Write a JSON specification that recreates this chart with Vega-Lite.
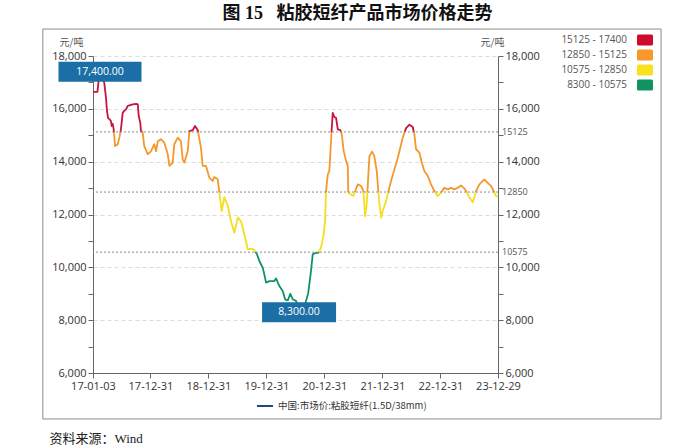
{
  "$schema": "https://vega.github.io/schema/vega-lite/v6.json",
  "width": 405,
  "height": 317,
  "padding": {"left": 42, "top": 4, "right": 10, "bottom": 0},
  "title": {"text": "图 15\u00a0\u00a0\u00a0粘胶短纤产品市场价格走势", "font": "Liberation Serif, Noto Sans CJK SC", "fontSize": 18, "fontWeight": "bold", "color": "#111111", "anchor": "middle", "offset": 6, "dx": 62},
  "datasets": {
    "series": [
      {"d": "2017-01-03", "v": 16640}, {"d": "2017-01-31", "v": 16640}, {"d": "2017-02-07", "v": 17050}, {"d": "2017-02-16", "v": 17400},
      {"d": "2017-03-01", "v": 17240}, {"d": "2017-03-15", "v": 16980}, {"d": "2017-03-26", "v": 16410}, {"d": "2017-04-01", "v": 15920},
      {"d": "2017-04-08", "v": 15650}, {"d": "2017-04-16", "v": 15610}, {"d": "2017-04-26", "v": 15540}, {"d": "2017-05-01", "v": 15350},
      {"d": "2017-05-07", "v": 15430}, {"d": "2017-05-13", "v": 15240}, {"d": "2017-05-22", "v": 14590}, {"d": "2017-06-08", "v": 14660},
      {"d": "2017-06-18", "v": 14910}, {"d": "2017-06-28", "v": 15220}, {"d": "2017-07-09", "v": 15850}, {"d": "2017-07-19", "v": 15920},
      {"d": "2017-07-30", "v": 15980}, {"d": "2017-08-10", "v": 16110}, {"d": "2017-09-10", "v": 16170}, {"d": "2017-10-01", "v": 16190},
      {"d": "2017-10-12", "v": 16170}, {"d": "2017-10-18", "v": 15730}, {"d": "2017-10-28", "v": 15470}, {"d": "2017-11-01", "v": 15160},
      {"d": "2017-11-12", "v": 15100}, {"d": "2017-11-22", "v": 14590}, {"d": "2017-12-14", "v": 14280}, {"d": "2018-01-03", "v": 14390},
      {"d": "2018-01-24", "v": 14660}, {"d": "2018-02-04", "v": 14390}, {"d": "2018-02-15", "v": 14770}, {"d": "2018-03-07", "v": 14850},
      {"d": "2018-03-28", "v": 14720}, {"d": "2018-04-19", "v": 14280}, {"d": "2018-04-29", "v": 13840}, {"d": "2018-05-20", "v": 13960},
      {"d": "2018-05-30", "v": 14660}, {"d": "2018-06-21", "v": 14910}, {"d": "2018-07-11", "v": 14770}, {"d": "2018-07-22", "v": 14090},
      {"d": "2018-08-01", "v": 13960}, {"d": "2018-08-23", "v": 14400}, {"d": "2018-09-02", "v": 15160}, {"d": "2018-09-23", "v": 15190},
      {"d": "2018-10-08", "v": 15350}, {"d": "2018-10-25", "v": 15190}, {"d": "2018-11-14", "v": 14530}, {"d": "2018-11-25", "v": 13840},
      {"d": "2018-12-16", "v": 13840}, {"d": "2019-01-06", "v": 13390}, {"d": "2019-01-27", "v": 13270}, {"d": "2019-02-06", "v": 13420},
      {"d": "2019-02-28", "v": 13330}, {"d": "2019-03-10", "v": 12820}, {"d": "2019-03-25", "v": 12130}, {"d": "2019-04-10", "v": 12660},
      {"d": "2019-05-02", "v": 12320}, {"d": "2019-05-22", "v": 11750}, {"d": "2019-06-12", "v": 11310}, {"d": "2019-07-04", "v": 11880},
      {"d": "2019-07-24", "v": 11750}, {"d": "2019-08-14", "v": 11250}, {"d": "2019-09-05", "v": 10680}, {"d": "2019-09-25", "v": 10710},
      {"d": "2019-10-16", "v": 10660}, {"d": "2019-11-02", "v": 10490}, {"d": "2019-11-17", "v": 10240}, {"d": "2019-12-08", "v": 9990},
      {"d": "2019-12-18", "v": 9740}, {"d": "2019-12-29", "v": 9420}, {"d": "2020-01-19", "v": 9480}, {"d": "2020-02-19", "v": 9480},
      {"d": "2020-03-01", "v": 9580}, {"d": "2020-03-22", "v": 9290}, {"d": "2020-04-12", "v": 9100}, {"d": "2020-04-27", "v": 8790},
      {"d": "2020-05-14", "v": 8750}, {"d": "2020-05-30", "v": 9000}, {"d": "2020-06-14", "v": 8790}, {"d": "2020-07-05", "v": 8730},
      {"d": "2020-07-24", "v": 8300}, {"d": "2020-08-12", "v": 8450}, {"d": "2020-08-31", "v": 8600}, {"d": "2020-09-06", "v": 8730},
      {"d": "2020-09-20", "v": 9040}, {"d": "2020-10-07", "v": 9860}, {"d": "2020-10-18", "v": 10490}, {"d": "2020-11-08", "v": 10550},
      {"d": "2020-11-22", "v": 10550}, {"d": "2020-12-09", "v": 10740}, {"d": "2020-12-26", "v": 11250}, {"d": "2021-01-04", "v": 11750},
      {"d": "2021-01-10", "v": 12890}, {"d": "2021-01-21", "v": 13520}, {"d": "2021-01-31", "v": 13650}, {"d": "2021-02-10", "v": 14770},
      {"d": "2021-02-21", "v": 15850}, {"d": "2021-03-03", "v": 15690}, {"d": "2021-03-14", "v": 15660}, {"d": "2021-03-25", "v": 15220},
      {"d": "2021-04-10", "v": 15190}, {"d": "2021-04-19", "v": 15040}, {"d": "2021-05-01", "v": 14400}, {"d": "2021-05-16", "v": 14030},
      {"d": "2021-05-27", "v": 13840}, {"d": "2021-05-30", "v": 12820}, {"d": "2021-06-16", "v": 12760}, {"d": "2021-07-01", "v": 12700},
      {"d": "2021-07-13", "v": 12890}, {"d": "2021-07-29", "v": 13140}, {"d": "2021-08-18", "v": 13080}, {"d": "2021-09-02", "v": 12890},
      {"d": "2021-09-13", "v": 11940}, {"d": "2021-09-23", "v": 12390}, {"d": "2021-10-10", "v": 14210}, {"d": "2021-10-27", "v": 14380},
      {"d": "2021-11-10", "v": 14210}, {"d": "2021-11-25", "v": 13650}, {"d": "2021-12-12", "v": 12390}, {"d": "2021-12-23", "v": 11880},
      {"d": "2022-01-02", "v": 12130}, {"d": "2022-01-23", "v": 12510}, {"d": "2022-02-23", "v": 13270}, {"d": "2022-04-07", "v": 14150},
      {"d": "2022-05-08", "v": 14910}, {"d": "2022-05-29", "v": 15270}, {"d": "2022-06-19", "v": 15400}, {"d": "2022-07-10", "v": 15310},
      {"d": "2022-07-20", "v": 15040}, {"d": "2022-07-31", "v": 14470}, {"d": "2022-08-21", "v": 14340}, {"d": "2022-09-05", "v": 13960},
      {"d": "2022-09-21", "v": 13650}, {"d": "2022-10-13", "v": 13460}, {"d": "2022-11-02", "v": 13140}, {"d": "2022-11-23", "v": 12890},
      {"d": "2022-12-14", "v": 12700}, {"d": "2023-01-04", "v": 12820}, {"d": "2023-01-25", "v": 13010}, {"d": "2023-02-16", "v": 12950},
      {"d": "2023-03-08", "v": 13010}, {"d": "2023-03-29", "v": 12950}, {"d": "2023-04-19", "v": 13010}, {"d": "2023-05-10", "v": 13100},
      {"d": "2023-05-27", "v": 13010}, {"d": "2023-06-11", "v": 12890}, {"d": "2023-07-02", "v": 12640}, {"d": "2023-07-23", "v": 12450},
      {"d": "2023-08-13", "v": 12890}, {"d": "2023-09-03", "v": 13140}, {"d": "2023-10-04", "v": 13330}, {"d": "2023-10-25", "v": 13200},
      {"d": "2023-11-15", "v": 13080}, {"d": "2023-12-02", "v": 12890}, {"d": "2023-12-17", "v": 12700}, {"d": "2023-12-29", "v": 12660}
    ],
    "thresholds": [{"v": 15125}, {"v": 12850}, {"v": 10575}],
    "bands": [
      {"band": "15125 - 17400"}, {"band": "12850 - 15125"}, {"band": "10575 - 12850"}, {"band": "8300 - 10575"}
    ],
    "extremes": [
      {"kind": "max", "d": "2017-02-16", "v": 17400, "label": "17,400.00"},
      {"kind": "min", "d": "2020-07-24", "v": 8300, "label": "8,300.00"}
    ]
  },
  "layer": [
    {
      "data": {"name": "series"},
      "mark": {
        "type": "line", "strokeWidth": 1.8, "strokeJoin": "round",
        "stroke": {
          "gradient": "linear", "x1": 0, "y1": 0, "x2": 0, "y2": 1,
          "stops": [
            {"offset": 0, "color": "#c8133d"}, {"offset": 0.25, "color": "#c8133d"},
            {"offset": 0.25, "color": "#f5972a"}, {"offset": 0.5, "color": "#f5972a"},
            {"offset": 0.5, "color": "#f3df1f"}, {"offset": 0.75, "color": "#f3df1f"},
            {"offset": 0.75, "color": "#11935f"}, {"offset": 1, "color": "#11935f"}
          ]
        }
      },
      "encoding": {
        "x": {
          "field": "d", "type": "temporal",
          "scale": {"domain": [{"year": 2017, "month": 1, "date": 3}, {"year": 2023, "month": 12, "date": 29}]},
          "axis": {
            "values": [
              {"year": 2017, "month": 1, "date": 3}, {"year": 2017, "month": 3, "date": 31}, {"year": 2017, "month": 6, "date": 30}, {"year": 2017, "month": 9, "date": 30}, {"year": 2017, "month": 12, "date": 31},
              {"year": 2018, "month": 3, "date": 31}, {"year": 2018, "month": 6, "date": 30}, {"year": 2018, "month": 9, "date": 30}, {"year": 2018, "month": 12, "date": 31},
              {"year": 2019, "month": 3, "date": 31}, {"year": 2019, "month": 6, "date": 30}, {"year": 2019, "month": 9, "date": 30}, {"year": 2019, "month": 12, "date": 31},
              {"year": 2020, "month": 3, "date": 31}, {"year": 2020, "month": 6, "date": 30}, {"year": 2020, "month": 9, "date": 30}, {"year": 2020, "month": 12, "date": 31},
              {"year": 2021, "month": 3, "date": 31}, {"year": 2021, "month": 6, "date": 30}, {"year": 2021, "month": 9, "date": 30}, {"year": 2021, "month": 12, "date": 31},
              {"year": 2022, "month": 3, "date": 31}, {"year": 2022, "month": 6, "date": 30}, {"year": 2022, "month": 9, "date": 30}, {"year": 2022, "month": 12, "date": 31},
              {"year": 2023, "month": 3, "date": 31}, {"year": 2023, "month": 6, "date": 30}, {"year": 2023, "month": 9, "date": 30}, {"year": 2023, "month": 12, "date": 29}
            ],
            "labelExpr": "(month(datum.value) == 11 && date(datum.value) == 31) || (year(datum.value) == 2017 && month(datum.value) == 0) || (year(datum.value) == 2023 && month(datum.value) == 11 && date(datum.value) == 29) ? timeFormat(datum.value, '%y-%m-%d') : ''",
            "labelOverlap": false, "labelFlush": false, "grid": false,
            "title": "资料来源：Wind", "titleFont": "Liberation Serif, Noto Sans CJK SC", "titleFontSize": 13, "titleFontWeight": "normal", "titleColor": "#222222",
            "titleAlign": "left", "titleAnchor": "start", "titleX": -44, "titleY": 65, "titleBaseline": "middle"
          }
        },
        "y": {
          "field": "v", "type": "quantitative",
          "scale": {"domain": [6000, 18000], "nice": false, "zero": false},
          "axis": {
            "orient": "left",
            "values": [6000, 7000, 8000, 9000, 10000, 11000, 12000, 13000, 14000, 15000, 16000, 17000, 18000],
            "labelExpr": "datum.value % 2000 == 0 ? format(datum.value, ',') : ''",
            "grid": true, "gridColor": "#dddddd", "gridDash": [4, 3],
            "gridOpacity": {"condition": {"test": "datum.value % 2000 == 0 && datum.value > 6000", "value": 1}, "value": 0},
            "title": "元/吨", "titleAngle": 0, "titleX": -22, "titleY": -11, "titleAlign": "center", "titleBaseline": "alphabetic"
          }
        }
      }
    },
    {
      "data": {"values": [{}]},
      "mark": {"type": "rect", "fill": "#ffffff", "fillOpacity": 0, "stroke": "#8a8a8a", "strokeWidth": 1, "clip": false},
      "encoding": {
        "x": {"datum": {"year": 2016, "month": 2, "date": 22}, "type": "temporal"},
        "x2": {"datum": {"year": 2026, "month": 10, "date": 21}},
        "y": {"datum": 4260, "type": "quantitative", "axis": null, "scale": {"domain": [6000, 18000], "nice": false, "zero": false}},
        "y2": {"datum": 19020}
      }
    },
    {
      "data": {"name": "thresholds"},
      "mark": {"type": "rule", "stroke": "#8c8c8c", "strokeDash": [2, 2], "strokeWidth": 1},
      "encoding": {
        "y": {
          "field": "v", "type": "quantitative",
          "scale": {"domain": [6000, 18000], "nice": false, "zero": false},
          "axis": {
            "orient": "right",
            "values": [6000, 7000, 8000, 9000, 10000, 11000, 12000, 13000, 14000, 15000, 16000, 17000, 18000],
            "labelExpr": "datum.value % 2000 == 0 ? format(datum.value, ',') : ''",
            "grid": false,
            "title": "元/吨", "titleAngle": 0, "titleX": -6, "titleY": -11, "titleAlign": "center", "titleBaseline": "alphabetic"
          }
        }
      }
    },
    {
      "data": {"name": "thresholds"},
      "mark": {"type": "text", "align": "left", "baseline": "middle", "dx": 4, "fontSize": 9, "color": "#555555", "font": "Open Sans", "clip": false},
      "encoding": {
        "x": {"datum": {"year": 2023, "month": 12, "date": 29}, "type": "temporal"},
        "y": {"field": "v", "type": "quantitative", "axis": null, "scale": {"domain": [6000, 18000], "nice": false, "zero": false}},
        "text": {"field": "v", "type": "quantitative", "format": "d"}
      }
    },
    {
      "data": {"name": "bands"},
      "mark": {"type": "point", "filled": true, "opacity": 0},
      "encoding": {
        "x": {"datum": {"year": 2020, "month": 1, "date": 1}, "type": "temporal"},
        "y": {"datum": 12000, "type": "quantitative", "axis": null, "scale": {"domain": [6000, 18000], "nice": false, "zero": false}},
        "color": {
          "field": "band", "type": "nominal",
          "scale": {"domain": ["15125 - 17400", "12850 - 15125", "10575 - 12850", "8300 - 10575"], "range": ["#cf0a2c", "#f7982a", "#f6e21f", "#10935f"]},
          "legend": {
            "orient": "none", "legendX": 544, "legendY": -24, "title": null,
            "symbolType": "M-0.8,-0.69H0.8Q1,-0.69 1,-0.49V0.49Q1,0.69 0.8,0.69H-0.8Q-1,0.69 -1,0.49V-0.49Q-1,-0.69 -0.8,-0.69Z",
            "symbolSize": 256, "symbolOpacity": 1, "symbolStrokeWidth": 0,
            "labelAlign": "right", "labelOffset": -26, "labelFontSize": 10, "labelColor": "#555555", "labelFont": "Open Sans",
            "rowPadding": 1, "padding": 0
          }
        }
      }
    },
    {
      "data": {"values": [{}]},
      "mark": {"type": "rule", "opacity": 0},
      "encoding": {
        "y": {"datum": 12000, "type": "quantitative", "axis": null, "scale": {"domain": [6000, 18000], "nice": false, "zero": false}},
        "stroke": {
          "datum": "中国:市场价:粘胶短纤(1.5D/38mm)", "type": "nominal",
          "scale": {"range": ["#23467c"]},
          "legend": {
            "orient": "none", "legendX": 163, "legendY": 341, "title": null,
            "symbolType": "stroke", "symbolSize": 256, "symbolStrokeWidth": 2, "symbolOpacity": 1,
            "labelFontSize": 9.5, "labelColor": "#333333", "labelFont": "Noto Sans CJK SC", "labelLimit": 0, "padding": 0
          }
        }
      }
    },
    {
      "data": {"name": "extremes"},
      "transform": [{"filter": "datum.kind == 'max'"}],
      "mark": {"type": "point", "filled": true, "opacity": 1, "color": "#1b6fa6", "shape": "M-1,-0.241H1V0.241H-1Z", "size": 6889, "clip": false},
      "encoding": {
        "x": {"field": "d", "type": "temporal"},
        "y": {"field": "v", "type": "quantitative", "axis": null, "scale": {"domain": [6000, 18000], "nice": false, "zero": false}}
      }
    },
    {
      "data": {"name": "extremes"},
      "transform": [{"filter": "datum.kind == 'min'"}],
      "mark": {"type": "point", "filled": true, "opacity": 1, "color": "#1b6fa6", "shape": "M-1,-0.27H1V0.27H-1Z", "size": 5476, "clip": false},
      "encoding": {
        "x": {"field": "d", "type": "temporal"},
        "y": {"field": "v", "type": "quantitative", "axis": null, "scale": {"domain": [6000, 18000], "nice": false, "zero": false}}
      }
    },
    {
      "data": {"name": "extremes"},
      "mark": {"type": "text", "color": "#ffffff", "fontSize": 10.5, "font": "Open Sans", "align": "center", "baseline": "middle", "clip": false},
      "encoding": {
        "x": {"field": "d", "type": "temporal"},
        "y": {"field": "v", "type": "quantitative", "axis": null, "scale": {"domain": [6000, 18000], "nice": false, "zero": false}},
        "text": {"field": "label", "type": "nominal"}
      }
    }
  ],
  "resolve": {"axis": {"y": "independent"}},
  "config": {
    "view": {"stroke": null},
    "font": "Open Sans",
    "axis": {
      "labelFont": "Open Sans", "labelFontSize": 11, "labelColor": "#333333",
      "domainColor": "#666666", "tickColor": "#666666", "tickSize": 5, "labelPadding": 2,
      "titleFont": "Noto Sans CJK SC", "titleFontSize": 10, "titleFontWeight": "normal", "titleColor": "#555555"
    }
  }
}
